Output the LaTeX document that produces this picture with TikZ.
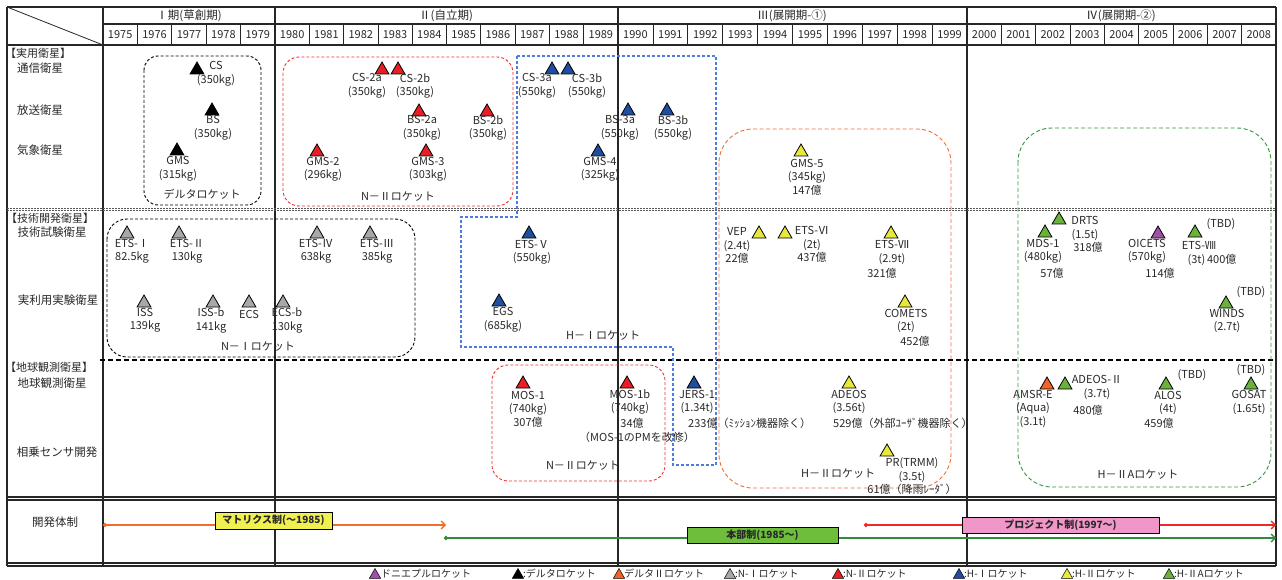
\documentclass[tikz,border=0pt]{standalone}
\usepackage{fontspec}
\setmainfont{Noto Sans CJK JP}
\usetikzlibrary{shapes.geometric,arrows.meta}
\definecolor{cRed}{RGB}{232,30,37}
\definecolor{cBlue}{RGB}{31,78,158}
\definecolor{cYel}{RGB}{232,232,60}
\definecolor{cGrn}{RGB}{106,178,60}
\definecolor{cGry}{RGB}{168,168,168}
\definecolor{cPur}{RGB}{160,80,170}
\definecolor{cOrg}{RGB}{240,100,40}
\definecolor{bRed}{RGB}{240,50,50}
\definecolor{bBlue}{RGB}{75,125,220}
\definecolor{bOrg}{RGB}{240,110,50}
\definecolor{bGrn}{RGB}{50,150,60}
\definecolor{txt}{RGB}{40,40,40}
\definecolor{arrOrg}{RGB}{240,110,40}
\definecolor{arrGrn}{RGB}{50,140,60}
\definecolor{arrRed}{RGB}{240,40,40}
\definecolor{boxYel}{RGB}{240,240,80}
\definecolor{boxGrn}{RGB}{110,190,60}
\definecolor{boxPnk}{RGB}{240,150,200}
\tikzset{
 frame/.style={line width=1.3pt, draw=black!85},
 thinl/.style={line width=0.8pt, draw=black!85},
 tri/.style={regular polygon, regular polygon sides=3, minimum size=16pt, inner sep=0pt, draw=black, line width=0.8pt},
 ltri/.style={tri, minimum size=13pt, line width=0.5pt},
 lbl/.style={align=center, inner sep=0pt, text=txt, font=\fontsize{11}{13.5}\selectfont},
 rowl/.style={inner sep=0pt, text=txt, font=\fontsize{11.5}{14}\selectfont},
 secl/.style={anchor=west, inner sep=0pt, text=txt, font=\fontsize{11}{14}\selectfont},
 yr/.style={inner sep=0pt, text=txt, font=\fontsize{11}{12}\selectfont},
 per/.style={inner sep=0pt, text=txt, font=\fontsize{11.5}{13}\selectfont},
 rbox/.style={rounded corners=#1, dash pattern=on 3pt off 2pt, line width=0.9pt},
 pbox/.style={draw=black, line width=0.9pt, inner sep=0pt, text=txt, font=\bfseries\fontsize{10}{12}\selectfont},
 leg/.style={anchor=west, inner sep=0pt, text=txt, font=\fontsize{10}{12}\selectfont},
}
\begin{document}
\begin{tikzpicture}[x=1pt,y=-1pt]
\useasboundingbox (0,0) rectangle (1282,580);
% ---------- frame ----------
\draw[frame] (7,7) -- (1276,7);
\draw[frame] (103,24) -- (1276,24);
\draw[frame,line width=1.6pt] (7,45) -- (1276,45);
\draw[frame] (7,497) -- (1276,497);
\draw[frame] (7,500) -- (1276,500);
\draw[frame] (7,563) -- (1276,563);
\draw[frame] (7,566) -- (1276,566);
\foreach \x in {7,103,275,618,967,1276} \draw[frame] (\x,7) -- (\x,566);
\draw[thinl] (7,7) -- (103,45);
\foreach \i in {1,...,4} \draw[thinl] (103+34.4*\i,24) -- (103+34.4*\i,45);
\foreach \i in {1,...,9} \draw[thinl] (275+34.3*\i,24) -- (275+34.3*\i,45);
\foreach \i in {1,...,9} \draw[thinl] (618+34.9*\i,24) -- (618+34.9*\i,45);
\foreach \i in {1,...,8} \draw[thinl] (967+34.333*\i,24) -- (967+34.333*\i,45);
% separators
\draw[dash pattern=on 2pt off 1pt, line width=0.7pt, black!65] (7,208) -- (1276,208);
\draw[dash pattern=on 2pt off 1pt, line width=0.7pt, black!65] (7,210.5) -- (1276,210.5);
\draw[dash pattern=on 5pt off 3pt, line width=1.6pt, black] (100,360) -- (1276,360);
% ---------- header ----------
\node[per] (p1) at (189,16) {Ⅰ期(草創期)};
\node[per] (p2) at (446,16) {Ⅱ(自立期)};
\node[per] (p3) at (792,16) {Ⅲ(展開期-①)};
\node[per] (p4) at (1121,16) {Ⅳ(展開期-②)};
\foreach \y [count=\i from 0] in {1975,1976,1977,1978,1979} \node[yr] (y\y) at (103+34.4*\i+17.2,35) {\y};
\foreach \y [count=\i from 0] in {1980,1981,1982,1983,1984,1985,1986,1987,1988,1989} \node[yr] (y\y) at (275+34.3*\i+17.15,35) {\y};
\foreach \y [count=\i from 0] in {1990,1991,1992,1993,1994,1995,1996,1997,1998,1999} \node[yr] (y\y) at (618+34.9*\i+17.45,35) {\y};
\foreach \y [count=\i from 0] in {2000,2001,2002,2003,2004,2005,2006,2007,2008} \node[yr] (y\y) at (967+34.333*\i+17.17,35) {\y};
% ---------- row labels ----------
\node[secl] (s1) at (5,53) {【実用衛星】};
\node[rowl] (r1) at (40,68) {通信衛星};
\node[rowl] (r2) at (40,110) {放送衛星};
\node[rowl] (r3) at (40,150) {気象衛星};
\node[secl] (s2) at (6,218) {【技術開発衛星】};
\node[rowl] (r4) at (52,232) {技術試験衛星};
\node[rowl] (r5) at (58,300) {実利用実験衛星};
\node[secl] (s3) at (5,367) {【地球観測衛星】};
\node[rowl] (r6) at (52,383) {地球観測衛星};
\node[rowl] (r7) at (57,452) {相乗センサ開発};
\node[rowl] (r8) at (55,522) {開発体制};
% ---------- rocket boxes ----------
\draw[rbox=14pt, black] (144,56) rectangle (261,205);
\draw[rbox=16pt, bRed] (283,57) rectangle (513,206);
\draw[rbox=20pt, black] (107,219) rectangle (415,357);
\draw[dash pattern=on 3pt off 2pt, line width=1.2pt, bBlue] (517,56) -- (716,56) -- (716,465) -- (673,465) -- (673,347) -- (461,347) -- (461,217) -- (517,217) -- cycle;
\draw[rbox=34pt, bOrg, dash pattern=on 4pt off 2.5pt] (719,129) rectangle (951,488);
\draw[rbox=34pt, bGrn, dash pattern=on 4pt off 2.5pt] (1018,128) rectangle (1271,487);
\draw[rbox=16pt, bRed] (492,365) rectangle (665,481);
\node[lbl] (bx1) at (202,194) {デルタロケット};
\node[lbl] (bx2) at (398,197) {N－Ⅱロケット};
\node[lbl] (bx3) at (258,347) {N－Ⅰロケット};
\node[lbl] (bx4) at (603,336) {H－Ⅰロケット};
\node[lbl] (bx5) at (583,466) {N－Ⅱロケット};
\node[lbl] (bx6) at (838,474) {H－Ⅱロケット};
\node[lbl] (bx7) at (1138,475) {H－ⅡAロケット};
% ---------- 実用衛星 ----------
\node[tri,fill=black] (t-cs) at (197,70) {};
\node[lbl] (l-cs) at (216,74) {CS\\(350kg)};
\node[tri,fill=black] (t-bs) at (212,111) {};
\node[lbl] (l-bs) at (213,128) {BS\\(350kg)};
\node[tri,fill=black] (t-gms) at (177,151) {};
\node[lbl] (l-gms) at (178,169) {GMS\\(315kg)};
\node[tri,fill=cRed] (t-gms2) at (317,152) {};
\node[lbl] (l-gms2) at (323,169.5) {GMS-2\\(296kg)};
\node[tri,fill=cRed] (t-cs2a) at (382,70) {};
\node[lbl] (l-cs2a) at (367,86) {CS-2a\\(350kg)};
\node[tri,fill=cRed] (t-cs2b) at (398,70) {};
\node[lbl] (l-cs2b) at (415,86) {CS-2b\\(350kg)};
\node[tri,fill=cRed] (t-bs2a) at (419,112) {};
\node[lbl] (l-bs2a) at (422,128) {BS-2a\\(350kg)};
\node[tri,fill=cRed] (t-bs2b) at (487,112) {};
\node[lbl] (l-bs2b) at (488,128) {BS-2b\\(350kg)};
\node[tri,fill=cRed] (t-gms3) at (426,152) {};
\node[lbl] (l-gms3) at (428,169.5) {GMS-3\\(303kg)};
\node[tri,fill=cBlue] (t-cs3a) at (552,70) {};
\node[lbl] (l-cs3a) at (537,86) {CS-3a\\(550kg)};
\node[tri,fill=cBlue] (t-cs3b) at (568,70) {};
\node[lbl] (l-cs3b) at (587,86) {CS-3b\\(550kg)};
\node[tri,fill=cBlue] (t-bs3a) at (628,111) {};
\node[lbl] (l-bs3a) at (620,128) {BS-3a\\(550kg)};
\node[tri,fill=cBlue] (t-bs3b) at (667,111) {};
\node[lbl] (l-bs3b) at (673,128) {BS-3b\\(550kg)};
\node[tri,fill=cBlue] (t-gms4) at (598,152) {};
\node[lbl] (l-gms4) at (600,169.5) {GMS-4\\(325kg)};
\node[tri,fill=cYel] (t-gms5) at (801,152) {};
\node[lbl] (l-gms5) at (807,177) {GMS-5\\(345kg)\\147億};
% ---------- 技術開発衛星 ----------
\node[tri,fill=cGry] (t-ets1) at (127,234) {};
\node[lbl] (l-ets1) at (132,251.5) {ETS-Ⅰ\\82.5kg};
\node[tri,fill=cGry] (t-ets2) at (179,234) {};
\node[lbl] (l-ets2) at (187,251.5) {ETS-Ⅱ\\130kg};
\node[tri,fill=cGry] (t-ets4) at (317,234) {};
\node[lbl] (l-ets4) at (316,251.5) {ETS-Ⅳ\\638kg};
\node[tri,fill=cGry] (t-ets3) at (370,234) {};
\node[lbl] (l-ets3) at (377,251.5) {ETS-Ⅲ\\385kg};
\node[tri,fill=cGry] (t-iss) at (144,303) {};
\node[lbl] (l-iss) at (145,320.5) {ISS\\139kg};
\node[tri,fill=cGry] (t-issb) at (213,303) {};
\node[lbl] (l-issb) at (211,320.5) {ISS-b\\141kg};
\node[tri,fill=cGry] (t-ecs) at (249,303) {};
\node[lbl] (l-ecs) at (249,314) {ECS};
\node[tri,fill=cGry] (t-ecsb) at (283,303) {};
\node[lbl] (l-ecsb) at (287,320.5) {ECS-b\\130kg};
\node[tri,fill=cBlue] (t-ets5) at (529,234) {};
\node[lbl] (l-ets5) at (532,252.5) {ETS-Ⅴ\\(550kg)};
\node[tri,fill=cBlue] (t-egs) at (499,302) {};
\node[lbl] (l-egs) at (503,320) {EGS\\(685kg)};
\node[tri,fill=cYel] (t-vep) at (759,234) {};
\node[lbl] (l-vep) at (737,245.5) {VEP\\(2.4t)\\22億};
\node[tri,fill=cYel] (t-ets6) at (785,234) {};
\node[lbl] (l-ets6) at (812,244.5) {ETS-Ⅵ\\(2t)\\437億};
\node[tri,fill=cYel] (t-ets7) at (891,234) {};
\node[lbl] (l-ets7) at (892,252.5) {ETS-Ⅶ\\(2.9t)};
\node[lbl] (c-ets7) at (882,273) {321億};
\node[tri,fill=cYel] (t-comets) at (905,303) {};
\node[lbl] (l-comets) at (906,321) {COMETS\\(2t)};
\node[lbl] (c-comets) at (915,341) {452億};
\node[tri,fill=cGrn] (t-drts) at (1059,220) {};
\node[lbl] (l-drts) at (1085,228.5) {DRTS\\(1.5t)};
\node[lbl] (c-drts) at (1088,247) {318億};
\node[tri,fill=cGrn] (t-mds) at (1045,233) {};
\node[lbl] (l-mds) at (1043,251.5) {MDS-1\\(480kg)};
\node[lbl] (c-mds) at (1052,273) {57億};
\node[tri,fill=cPur] (t-oic) at (1158,234) {};
\node[lbl] (l-oic) at (1147,251.5) {OICETS\\(570kg)};
\node[lbl] (c-oic) at (1160,273) {114億};
\node[tri,fill=cGrn] (t-ets8) at (1195,233) {};
\node[lbl] (d-ets8) at (1221,224) {(TBD)};
\node[lbl] (l-ets8) at (1199,245) {ETS-Ⅷ};
\node[lbl] (c-ets8) at (1212,260) {(3t)\,400億};
\node[tri,fill=cGrn] (t-winds) at (1226,304) {};
\node[lbl] (d-winds) at (1251,292) {(TBD)};
\node[lbl] (l-winds) at (1227,321) {WINDS\\(2.7t)};
% ---------- 地球観測衛星 ----------
\node[tri,fill=cRed] (t-mos1) at (523,384) {};
\node[lbl] (l-mos1) at (528,409) {MOS-1\\(740kg)\\307億};
\node[tri,fill=cRed] (t-mos1b) at (627,384) {};
\node[lbl] (l-mos1b) at (630,402) {MOS-1b\\(740kg)};
\node[lbl] (c-mos1b) at (632,423) {34億};
\node[lbl] (n-mos1b) at (637,437) {（MOS-1のPMを改修）};
\node[tri,fill=cBlue] (t-jers) at (694,384) {};
\node[lbl] (l-jers) at (697,402) {JERS-1\\(1.34t)};
\node[lbl,anchor=west] (c-jers) at (688,423) {233億（ﾐｯｼｮﾝ機器除く）};
\node[tri,fill=cYel] (t-adeos) at (849,384) {};
\node[lbl] (l-adeos) at (849,402) {ADEOS\\(3.56t)};
\node[lbl,anchor=west] (c-adeos) at (833,423) {529億（外部ﾕｰｻﾞ機器除く）};
\node[tri,fill=cYel] (t-pr) at (887,452) {};
\node[lbl] (l-pr) at (912,476.5) {PR(TRMM)\\(3.5t)\\61億（降雨ﾚｰﾀﾞ）};
\node[tri,fill=cOrg] (t-amsr) at (1047,385) {};
\node[lbl] (l-amsr) at (1033,408.5) {AMSR-E\\(Aqua)\\(3.1t)};
\node[tri,fill=cGrn] (t-adeos2) at (1065,385) {};
\node[lbl] (l-adeos2) at (1097,387.5) {ADEOS-Ⅱ\\(3.7t)};
\node[lbl] (c-adeos2) at (1088,410) {480億};
\node[tri,fill=cGrn] (t-alos) at (1166,385) {};
\node[lbl] (d-alos) at (1192,375) {(TBD)};
\node[lbl] (l-alos) at (1168,403) {ALOS\\(4t)};
\node[lbl] (c-alos) at (1159,423) {459億};
\node[tri,fill=cGrn] (t-gosat) at (1251,385) {};
\node[lbl] (d-gosat) at (1251,370) {(TBD)};
\node[lbl] (l-gosat) at (1249,402.5) {GOSAT\\(1.65t)};
% ---------- 開発体制 ----------
\coordinate (o1) at (103,525); \coordinate (o2) at (446,525);
\coordinate (g1) at (444,538); \coordinate (g2) at (1276,538);
\coordinate (r1s) at (864,525); \coordinate (r2s) at (1276,525);
\draw[arrOrg, line width=1.4pt, {Circle[length=4pt]}-{Straight Barb[length=4pt,width=8pt]}] (o1) -- (o2);
\draw[arrGrn, line width=1.4pt, {Circle[length=4pt]}-{Straight Barb[length=4pt,width=8pt]}] (g1) -- (g2);
\draw[arrRed, line width=1.4pt, {Circle[length=4pt]}-{Straight Barb[length=4pt,width=8pt]}] (r1s) -- (r2s);
\node[pbox, fill=boxYel, minimum width=117pt, minimum height=17pt] (mat) at (273.5,520.5) {マトリクス制(～1985)};
\node[pbox, fill=boxGrn, minimum width=151pt, minimum height=16pt] (hon) at (762.5,535) {本部制(1985～)};
\node[pbox, fill=boxPnk, minimum width=197pt, minimum height=16pt] (prj) at (1060.5,525) {プロジェクト制(1997～)};
% ---------- legend ----------
\node[ltri,fill=cPur] (lg1) at (375,575) {};
\node[leg] (lt1) at (381,574) {ドニエプルロケット};
\node[ltri,fill=black] (lg2) at (518,575) {};
\node[leg] (lt2) at (523,574) {:デルタロケット};
\node[ltri,fill=cOrg] (lg3) at (619,575) {};
\node[leg] (lt3) at (624,574) {デルタⅡロケット};
\node[ltri,fill=cGry] (lg4) at (730,575) {};
\node[leg] (lt4) at (735,574) {:N-Ⅰロケット};
\node[ltri,fill=cRed] (lg5) at (838,575) {};
\node[leg] (lt5) at (843,574) {:N-Ⅱロケット};
\node[ltri,fill=cBlue] (lg6) at (959,575) {};
\node[leg] (lt6) at (964,574) {:H-Ⅰロケット};
\node[ltri,fill=cYel] (lg7) at (1067,575) {};
\node[leg] (lt7) at (1072,574) {:H-Ⅱロケット};
\node[ltri,fill=cGrn] (lg8) at (1169,575) {};
\node[leg] (lt8) at (1174,574) {:H-ⅡAロケット};
\end{tikzpicture}
\end{document}
